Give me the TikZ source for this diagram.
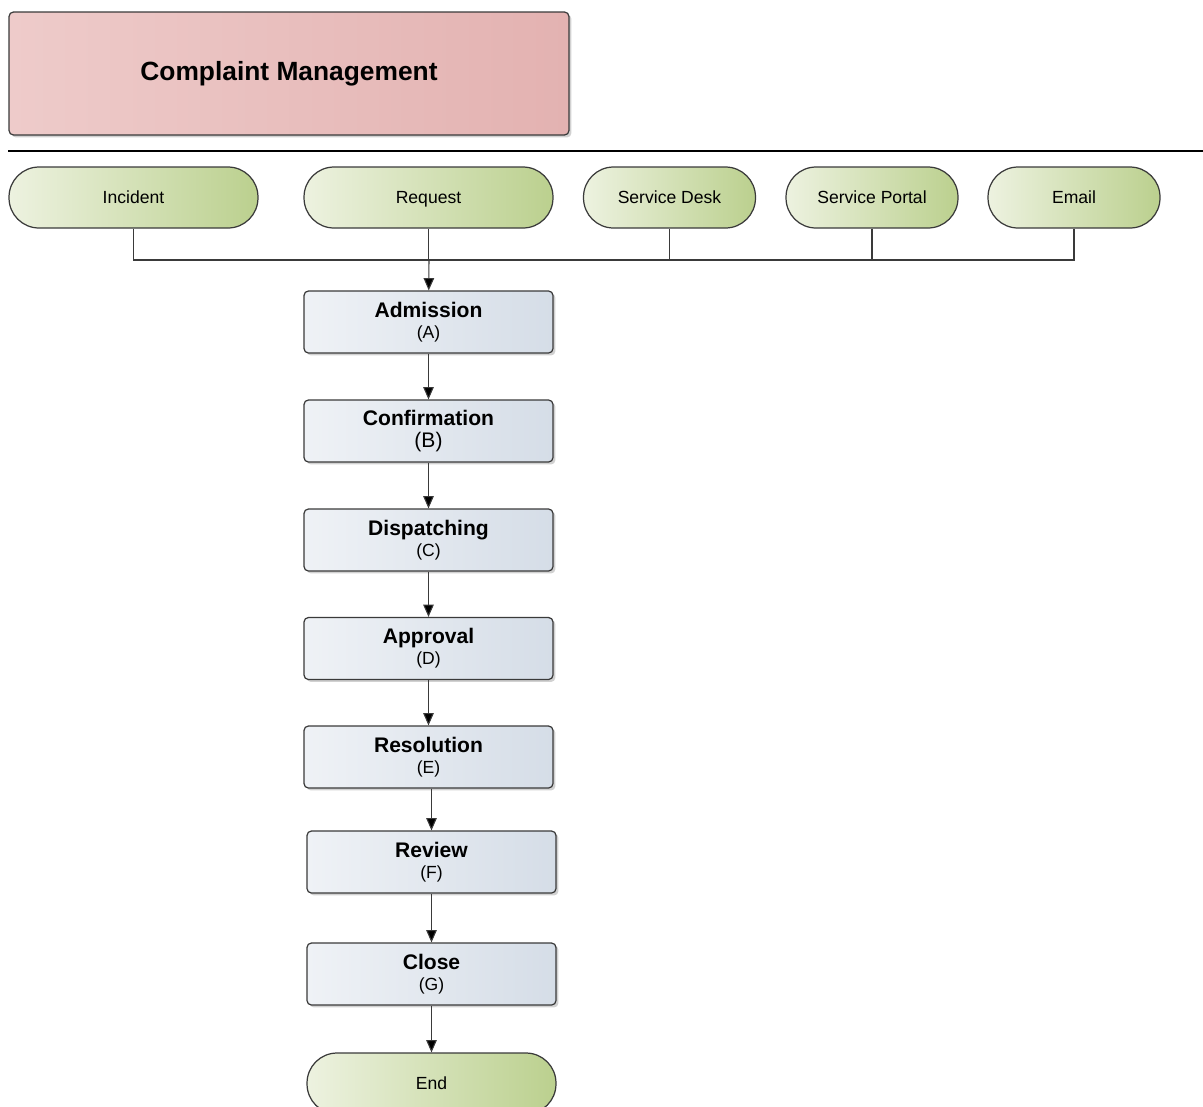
\documentclass[tikz,border=0pt]{standalone}
\usepackage{fontspec}
\setmainfont{Liberation Sans}
\usetikzlibrary{arrows.meta,shadows}
\definecolor{titleL}{HTML}{EECBCA}
\definecolor{titleR}{HTML}{E3B2B1}
\definecolor{stepL}{HTML}{EFF2F6}
\definecolor{stepR}{HTML}{D5DDE7}
\definecolor{termL}{HTML}{EDF2E0}
\definecolor{termR}{HTML}{BBD08E}
\definecolor{edge}{HTML}{3A3A3A}
\begin{document}
\begin{tikzpicture}[x=0.02cm,y=-0.02cm,
   shadowed/.style={drop shadow={shadow xshift=1.4pt,shadow yshift=-1.4pt,opacity=.3,fill=black!60}},
   titlebox/.style={shadowed,draw=edge,line width=.7pt,rounded corners=2.5pt,left color=titleL,right color=titleR,
      minimum width=11.2cm,minimum height=2.46cm,font=\fontsize{15}{18}\selectfont\bfseries},
   stepbox/.style={shadowed,draw=edge,line width=.7pt,rounded corners=2.5pt,left color=stepL,right color=stepR,
      minimum width=4.98cm,minimum height=1.24cm,align=center,inner sep=1pt,
      font=\fontsize{12}{13}\selectfont\bfseries},
   term/.style={draw=edge,line width=.7pt,rounded corners=.6cm,left color=termL,right color=termR,
      minimum height=1.22cm,text height=1.6ex,text depth=.4ex,font=\fontsize{10}{12}\selectfont},
   link/.style={draw=edge,line width=.6pt},
   flow/.style={link,-{Triangle[width=6pt,length=7pt,fill=black]}}]
   \useasboundingbox (0,0) rectangle (1203,1106);
   \node[titlebox] (title) at (289,73.5) {Complaint Management};
   \coordinate (ruleL) at (8,151);
   \coordinate (ruleR) at (1203,151);
   \draw[line width=1.1pt] (ruleL) -- (ruleR);
   \coordinate (join) at (429,260);
   \foreach \n/\t/\x/\w in
     {inc/Incident/133.5/4.98,
      req/Request/428.5/4.98,
      desk/Service Desk/669.5/3.44,
      portal/Service Portal/872/3.44,
      mail/Email/1074/3.44}
     {
     \node[term,minimum width=\w cm] (\n) at (\x,197.5) {\t};
     \draw[link] (\n.south) |- (join);
     }
   \foreach \n/\t/\s/\x/\y/\f in
     {adm/Admission/A/428.5/322/10,
      conf/Confirmation/B/428.5/431/12,
      disp/Dispatching/C/428.5/540/10,
      appr/Approval/D/428.5/648.5/10,
      res/Resolution/E/428.5/757/10,
      rev/Review/F/431.5/862/10,
      close/Close/G/431.5/974/10}
     \node[stepbox] (\n) at (\x,\y) {\t\\[-1pt]{\fontsize{\f}{12}\mdseries\selectfont(\s)}};
   \node[term,minimum width=4.98cm] (end) at (431.5,1083.5) {End};
   \draw[flow] (join) -- (adm);
   \draw[flow] (adm) -- (conf);
   \draw[flow] (conf) -- (disp);
   \draw[flow] (disp) -- (appr);
   \draw[flow] (appr) -- (res);
   \draw[flow] (rev.north |- res.south) -- (rev);
   \draw[flow] (rev) -- (close);
   \draw[flow] (close) -- (end);
\end{tikzpicture}
\end{document}
